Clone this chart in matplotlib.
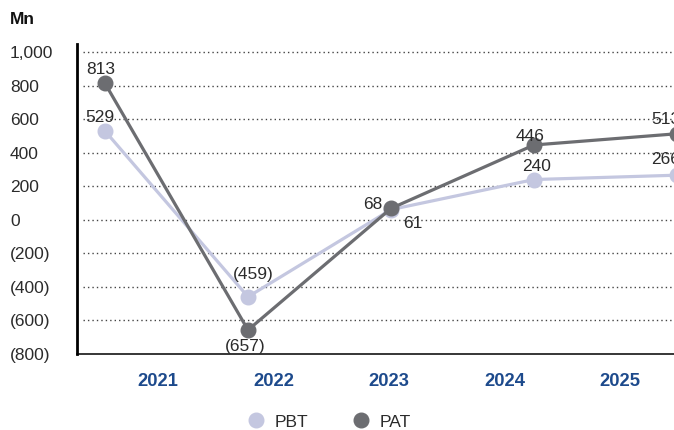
import matplotlib
matplotlib.use("Agg")
import matplotlib.pyplot as plt
from matplotlib.lines import Line2D

plt.rcParams["font.family"] = ["Liberation Sans", "DejaVu Sans"]

years = ["2021", "2022", "2023", "2024", "2025"]
pbt = [529, -459, 61, 240, 266]
pat = [813, -657, 68, 446, 513]
y_ticks = [1000, 800, 600, 400, 200, 0, -200, -400, -600, -800]
y_tick_labels = ["1,000", "800", "600", "400", "200", "0",
                 "(200)", "(400)", "(600)", "(800)"]

PBT_COLOR = "#c4c7e0"
PAT_COLOR = "#6c6d71"
YEAR_COLOR = "#1d4a8c"
TEXT_COLOR = "#2b2b2b"


def fmt(v):
    return f"({abs(v):,})" if v < 0 else f"{v:,}"


W, H, DPI = 674, 430, 100
fig = plt.figure(figsize=(W / DPI, H / DPI), dpi=DPI)
rect = [77 / W, 1 - 354 / H, 1 - 77 / W, (354 - 44) / H]
ax = fig.add_axes(rect)

x = list(range(len(years)))
ax.set_xlim(-0.196, 3.979)
ax.set_ylim(-800, 1048)

# dotted reference lines
for t in y_ticks[:-1]:
    ax.axhline(t, xmin=0.01, xmax=1, color="#444444", lw=1.0,
               linestyle=(0, (1, 2.2)), zorder=1)

ax.plot(x, pbt, color=PBT_COLOR, lw=2.3, marker="o", ms=10.5,
        clip_on=False, zorder=3)
ax.plot(x, pat, color=PAT_COLOR, lw=2.3, marker="o", ms=10.5,
        clip_on=False, zorder=4)

# value labels (offsets in points)
pbt_off = [(-4, 10), (4, 16), (16, -10), (2, 9.5), (-8, 11)]
pat_off = [(-3, 10), (-2, -12), (-13, 3), (-3, 6), (-8, 10)]
for xi, v, off in zip(x, pbt, pbt_off):
    ax.annotate(fmt(v), (xi, v), xytext=off, textcoords="offset points",
                ha="center", va="center", fontsize=12.5, color=TEXT_COLOR,
                zorder=6, annotation_clip=False)
for xi, v, off in zip(x, pat, pat_off):
    ax.annotate(fmt(v), (xi, v), xytext=off, textcoords="offset points",
                ha="center", va="center", fontsize=12.5, color=TEXT_COLOR,
                zorder=6, annotation_clip=False)

ax.set_xticks([])
ax.set_yticks(y_ticks)
ax.set_yticklabels(y_tick_labels, ha="left", fontsize=12.5, color=TEXT_COLOR)
ax.tick_params(axis="y", length=0, pad=67 * 72 / DPI)
for side in ("top", "right"):
    ax.spines[side].set_visible(False)
ax.spines["left"].set_linewidth(2.0)
ax.spines["left"].set_color("black")
ax.spines["bottom"].set_linewidth(1.1)
ax.spines["bottom"].set_color("black")
ax.set_facecolor("none")

# category labels along the bottom
lab_ax = fig.add_axes(rect, frameon=False)
lab_ax.set_xlim(-0.701, 4.468)
lab_ax.set_ylim(0, 1)
lab_ax.set_yticks([])
lab_ax.set_xticks(x)
lab_ax.set_xticklabels(years, fontsize=13.2, fontweight="bold", color=YEAR_COLOR)
lab_ax.tick_params(axis="x", length=0, pad=13.5)
lab_ax.patch.set_visible(False)
lab_ax.set_zorder(-1)

fig.text(10 / W, 1 - 20 / H, "Mn", fontsize=12.5, fontweight="bold",
         color="#111111", ha="left", va="center")

handles = [
    Line2D([], [], color=PBT_COLOR, marker="o", ms=10.5, lw=0),
    Line2D([], [], color=PAT_COLOR, marker="o", ms=10.5, lw=0),
]
fig.legend(handles, ["PBT", "PAT"], loc="center", ncol=2, frameon=False,
           bbox_to_anchor=(329 / W, 1 - 422 / H), fontsize=12.5,
           handlelength=1.0, handletextpad=0.6, columnspacing=2.5,
           labelcolor=TEXT_COLOR)

fig.savefig("out.png", dpi=DPI)
